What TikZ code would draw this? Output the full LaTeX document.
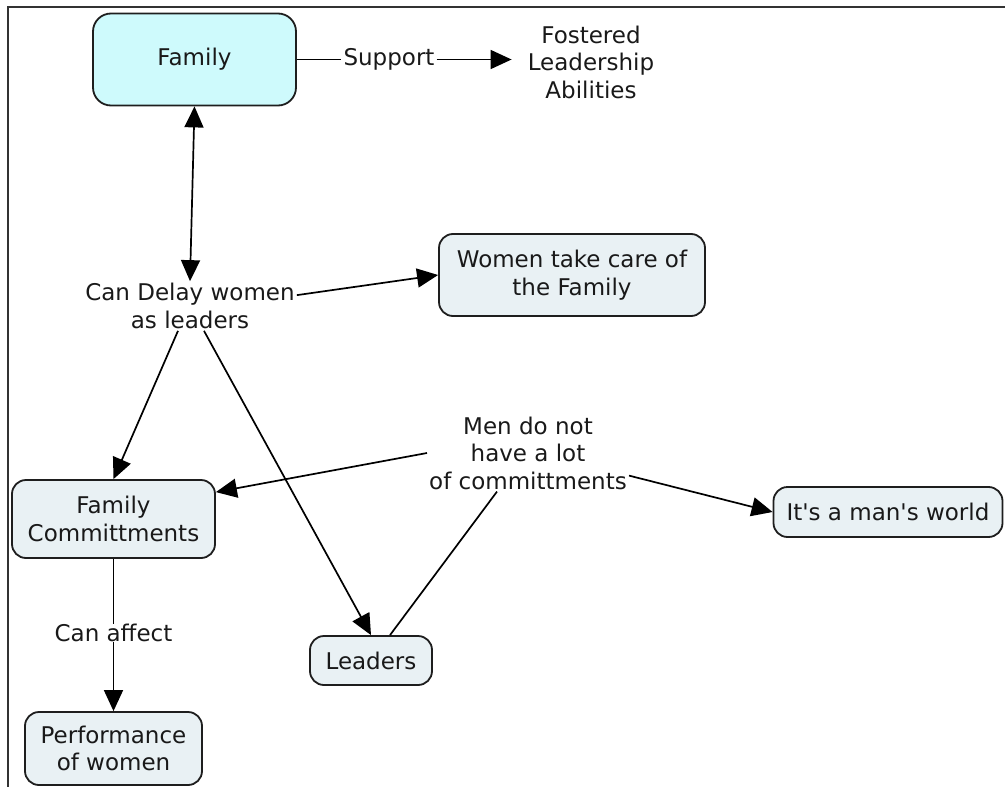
\documentclass[tikz,border=0pt]{standalone}
\usepackage{fontspec}
\setmainfont{DejaVu Sans}[Ligatures=TeXOff]
\usetikzlibrary{arrows.meta,calc}
\definecolor{famfill}{RGB}{206,250,252}
\definecolor{boxfill}{RGB}{233,241,244}
\definecolor{edgecol}{RGB}{30,30,30}
\newcommand\mapfont{\fontsize{23}{27.5}\selectfont}
\begin{document}
\begin{tikzpicture}[x=1pt,y=-1pt,
  concept/.style={draw=edgecol, line width=1.8pt, rounded corners=14pt, fill=boxfill,
                  align=center, font=\mapfont, inner sep=0pt, text=black!90},
  phrase/.style={align=center, font=\mapfont, inner sep=2pt, text=black!90},
  conn/.style={line width=1.7pt, draw=black},
  arr/.style={conn, -{Triangle[length=21pt,width=19pt]}},
  darr/.style={conn, {Triangle[length=21pt,width=19pt]}-{Triangle[length=21pt,width=19pt]}},
  frame/.style={draw=black!80, line width=1.2pt}]
\useasboundingbox (0,0) rectangle (1005,787);
\draw[frame] (8,787) -- (8,7) -- (1005,7);

% concepts
\node[concept, fill=famfill, rounded corners=18pt, minimum width=203pt, minimum height=92pt] (family) at (194.5,59.5) {Family};
\node[concept, minimum width=266pt, minimum height=82pt] (women) at (572,275) {Women take care of\\the Family};
\node[concept, minimum width=203pt, minimum height=78pt] (famcomm) at (113.5,519) {Family\\Committments};
\node[concept, minimum width=229pt, minimum height=50pt] (world) at (888,512) {It's a man's world};
\node[concept, minimum width=122pt, minimum height=49pt] (leaders) at (371,660.5) {Leaders};
\node[concept, minimum width=177pt, minimum height=73pt] (perf) at (113.5,748.5) {Performance\\of women};

% linking phrases
\node[phrase] (support) at (389,59.5) {Support};
\node[phrase] (fostered) at (591,62) {Fostered\\Leadership\\Abilities};
\node[phrase] (delay) at (190,306) {Can Delay women\\as leaders};
\node[phrase] (men) at (528,453) {Men do not\\have a lot\\of committments};
\node[phrase, inner sep=0pt] (affect) at (113.5,633) {Can affect};

% connectors
\draw[conn] (family.east) -- (support.west);
\draw[arr, shorten >=14pt] (support.east) -- (support.east -| fostered.west);
\draw[darr] (family.south) -- (delay.north);
\draw[arr] ($(delay.north east)+(0,14)$) -- (women.west);
\draw[arr] ($(delay.south)+(-12,0)$) -- (famcomm.north);
\draw[arr] ($(delay.south)+(14,0)$) -- (leaders.north);
\draw[arr] (men.west) -- ($(famcomm.north east)+(0,13)$);
\draw[arr] ($(men.south east)+(0,-16)$) -- (world.west);
\draw[conn] ($(leaders.north)+(19,0)$) -- ($(men.south)+(-31,0)$);
\draw[conn] (famcomm.south) -- (affect.north);
\draw[arr] (affect.south) -- (perf.north);
\end{tikzpicture}
\end{document}
